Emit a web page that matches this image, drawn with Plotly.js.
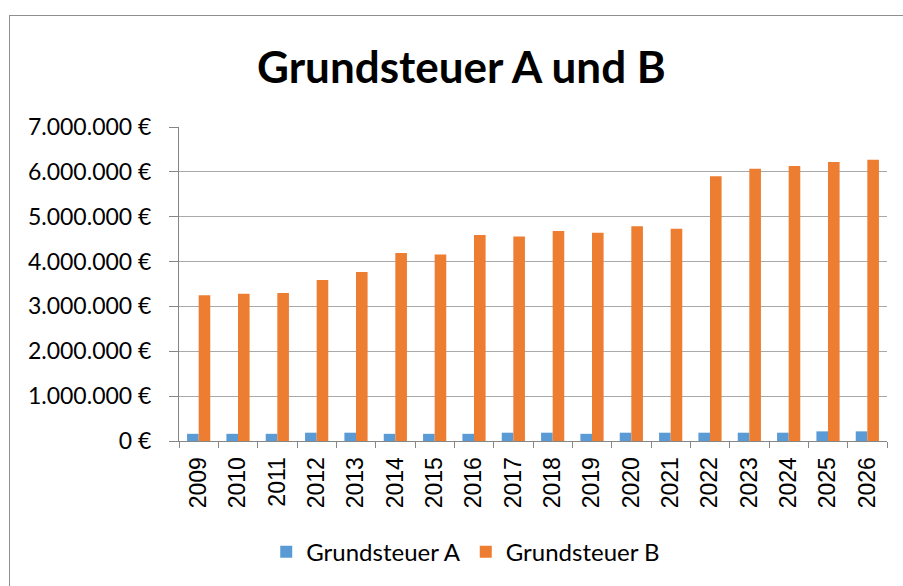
<!DOCTYPE html>
<html>
<head>
<meta charset="utf-8">
<script src="https://cdn.plot.ly/plotly-3.0.1.min.js"></script>
<style>
  html, body { margin: 0; padding: 0; background: #fff; overflow: hidden; }
  #wrap { position: relative; width: 903px; height: 586px; }
  #chart { width: 903px; height: 586px; }
  #frame { position: absolute; left: 9px; top: 15px; width: 1000px; height: 1000px;
           border: 1px solid #8f8f8f; pointer-events: none; }
</style>
</head>
<body>
<div id="wrap">
  <div id="chart"></div>
  <div id="frame"></div>
</div>
<script>
const years = ["2009","2010","2011","2012","2013","2014","2015","2016","2017","2018",
               "2019","2020","2021","2022","2023","2024","2025","2026"];
const grundsteuerA = [160000,160000,160000,185000,185000,160000,160000,160000,185000,185000,
                      160000,185000,185000,185000,185000,185000,215000,215000];
const grundsteuerB = [3250000,3280000,3300000,3590000,3770000,4190000,4160000,4590000,4560000,4680000,
                      4640000,4790000,4730000,5900000,6070000,6130000,6220000,6270000];
const yTicks = [0,1000000,2000000,3000000,4000000,5000000,6000000,7000000];
const yTickLabels = ["0 €","1.000.000 €","2.000.000 €","3.000.000 €","4.000.000 €",
                     "5.000.000 €","6.000.000 €","7.000.000 €"];

const traces = [
  { type: "bar", name: "Grundsteuer A", x: years, y: grundsteuerA,
    marker: { color: "#5B9BD5" } },
  { type: "bar", name: "Grundsteuer B", x: years, y: grundsteuerB,
    marker: { color: "#ED7D31" } }
];

const layout = {
  width: 903, height: 586,
  margin: { l: 179, r: 16, t: 127, b: 144 },
  paper_bgcolor: "#ffffff", plot_bgcolor: "#ffffff",
  title: { text: "<b>Grundsteuer A und B</b>", x: 0.511, xanchor: "center",
           y: 0.884, yanchor: "middle", yref: "container",
           font: { family: "Lato, 'Open Sans', sans-serif", size: 44, color: "#000000" } },
  barmode: "group", bargap: 0.41, bargroupgap: 0,
  xaxis: { type: "category", tickangle: -90, tickson: "boundaries",
           ticks: "outside", ticklen: 6, tickcolor: "#868686",
           ticklabelstandoff: 6,
           showline: true, linecolor: "#868686", linewidth: 1,
           showgrid: false, zeroline: false,
           tickfont: { family: "'Liberation Sans', Arial, sans-serif", size: 23, color: "#000000" } },
  yaxis: { range: [0, 7000000], tickmode: "array", tickvals: yTicks, ticktext: yTickLabels,
           ticks: "outside", ticklen: 9, tickcolor: "#868686",
           ticklabelstandoff: 13,
           showline: true, linecolor: "#868686", linewidth: 1,
           showgrid: true, gridcolor: "#a9a9a9", gridwidth: 1, zeroline: false,
           tickfont: { family: "Lato, 'Open Sans', sans-serif", size: 23, color: "#000000" } },
  showlegend: true,
  legend: { orientation: "h", x: 0.405, xanchor: "center", y: -0.35, yanchor: "middle",
            font: { family: "Lato, 'Open Sans', sans-serif", size: 24, color: "#000000" },
            itemwidth: 30, traceorder: "normal" }
};

Plotly.newPlot("chart", traces, layout, { displayModeBar: false, staticPlot: true });
</script>
</body>
</html>
